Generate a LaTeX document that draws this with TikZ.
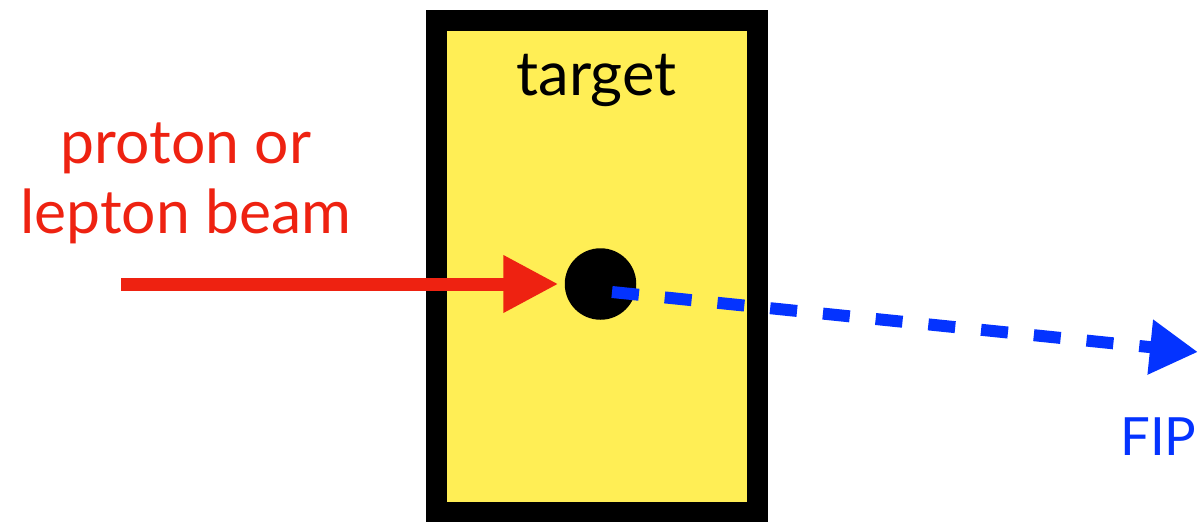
\documentclass[tikz,border=0pt]{standalone}
\usepackage{fontspec}
\setmainfont{Lato}
\usetikzlibrary{arrows.meta, positioning}
\definecolor{BeamRed}{HTML}{EE2211}
\definecolor{FipBlue}{HTML}{0433FF}
\definecolor{TargetYellow}{HTML}{FFEE55}
\tikzset{
  targetbox/.style={draw=black, line width=0.42cm, fill=TargetYellow, inner sep=0pt, outer sep=0pt},
  nucleus/.style={circle, fill=black, inner sep=0pt, minimum size=1.43cm},
  bigtext/.style={font=\fontsize{34.5}{39.8}\selectfont, inner sep=0pt},
  beamarrow/.style={-{Triangle[length=1.1cm, width=1.08cm]}, line width=0.26cm, draw=BeamRed},
  fiparrow/.style={-{Triangle[length=0.96cm, width=1.04cm]}, line width=0.24cm, draw=FipBlue, dash pattern=on 0.54cm off 0.52cm}
}
\begin{document}
\begin{tikzpicture}
\useasboundingbox (0,0) rectangle (23.96,-10.42);
\node[targetbox, minimum width=6.42cm, minimum height=9.83cm] (target) at (11.93,-5.325) {};
\node[bigtext, anchor=base, font=\fontsize{35}{40}\selectfont] (targetlabel) at (11.93,-1.9) {target};
\node[nucleus] (dot) at (12.01,-5.68) {};
\node[bigtext, anchor=base, align=center, text=BeamRed] (beamlabel) at (3.72,-4.66) {proton or\\lepton beam};
\node[bigtext, anchor=base, text=FipBlue, font=\fontsize{30}{36}\selectfont] (fiplabel) at (23.17,-9.1) {FIP};
\coordinate (beamstart) at (2.42,-5.68);
\coordinate (fipstart) at (12.24,-5.84);
\coordinate (fipend) at (23.96,-7.04);
\draw[beamarrow, shorten >=0.12cm] (beamstart) -- (dot.west);
\draw[fiparrow] (fipstart) -- (fipend);
\end{tikzpicture}
\end{document}
